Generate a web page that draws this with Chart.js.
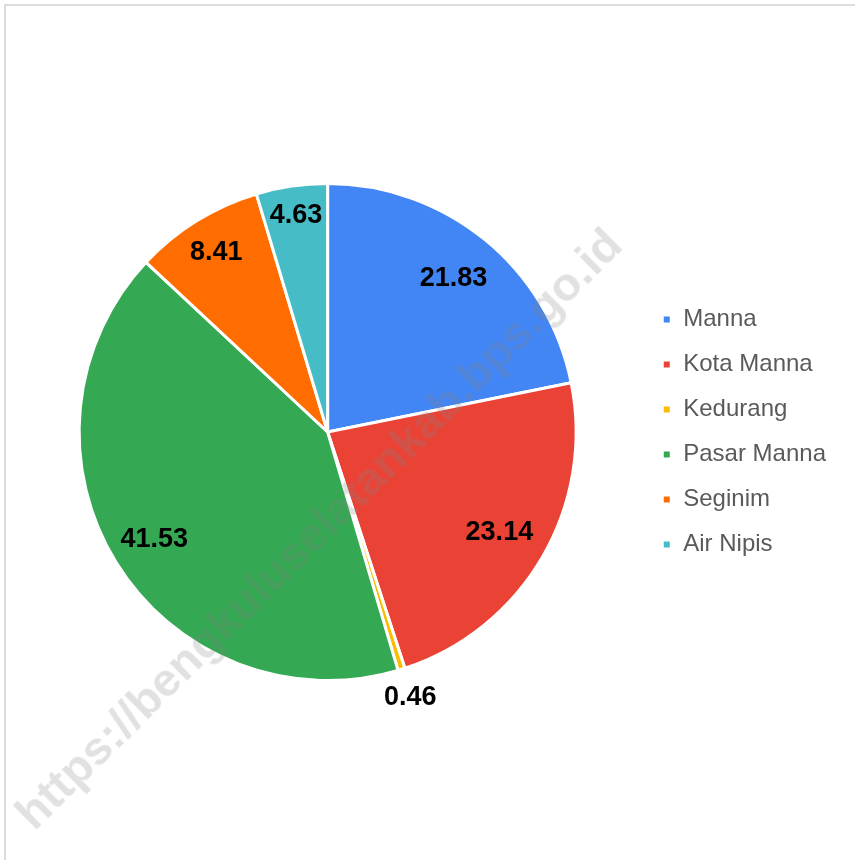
<!DOCTYPE html>
<html>
<head>
<meta charset="utf-8">
<script src="https://cdn.jsdelivr.net/npm/chart.js@4.4.1/dist/chart.umd.min.js"></script>
<style>
  html, body { margin: 0; padding: 0; background: #fff; }
  #wrap { position: relative; width: 855px; height: 860px; overflow: hidden; }
  #frame {
    position: absolute; left: 4px; top: 4px; width: 900px; height: 900px;
    border-top: 2px solid #dcdcdc; border-left: 2px solid #dcdcdc;
  }
  canvas { position: absolute; left: 0; top: 0; }
  #watermark {
    position: absolute; left: 318px; top: 528px;
    transform: translate(-50%, -50%) rotate(-44.7deg);
    font: bold 47px "Liberation Sans", Arial, sans-serif;
    color: rgba(128, 128, 128, 0.24);
    white-space: nowrap; pointer-events: none;
  }
</style>
</head>
<body>
<div id="wrap">
  <div id="frame"></div>
  <canvas id="chart" width="855" height="860"></canvas>
  <div id="watermark">https://bengkuluselatankab.bps.go.id</div>
</div>
<script>
const labels = ['Manna', 'Kota Manna', 'Kedurang', 'Pasar Manna', 'Seginim', 'Air Nipis'];
const values = [21.83, 23.14, 0.46, 41.53, 8.41, 4.63];
const colors = ['#4285F4', '#EA4335', '#FBBC04', '#34A853', '#FF6D01', '#46BDC6'];

// value labels: inside for big slices, pushed outward for thin ones
const sliceLabels = {
  id: 'sliceLabels',
  afterDatasetsDraw(chart) {
    const { ctx } = chart;
    const meta = chart.getDatasetMeta(0);
    const total = values.reduce((a, b) => a + b, 0);
    ctx.save();
    ctx.font = 'bold 27px "Liberation Sans", Arial, sans-serif';
    ctx.fillStyle = '#000';
    ctx.textAlign = 'center';
    ctx.textBaseline = 'middle';
    meta.data.forEach((arc, i) => {
      const pct = values[i] / total * 100;
      let f = 0.8;
      if (pct < 2) f = 1.12;
      else if (pct < 6) f = 0.88;
      else if (pct < 10) f = 0.85;
      else if (pct > 30) f = 0.82;
      const mid = (arc.startAngle + arc.endAngle) / 2;
      const r = arc.outerRadius * f;
      ctx.fillText(values[i].toFixed(2), arc.x + Math.cos(mid) * r, arc.y + Math.sin(mid) * r);
    });
    ctx.restore();
  }
};

new Chart(document.getElementById('chart'), {
  type: 'pie',
  data: {
    labels: labels,
    datasets: [{
      data: values,
      backgroundColor: colors,
      borderColor: '#ffffff',
      borderWidth: 3,
      hoverOffset: 0
    }]
  },
  options: {
    responsive: false,
    animation: false,
    layout: { padding: { left: 14, right: 19, top: 182, bottom: 178 } },
    plugins: {
      tooltip: { enabled: false },
      legend: {
        position: 'right',
        labels: {
          boxWidth: 9,
          boxHeight: 9,
          padding: 21,
          color: '#5a5a5a',
          font: { family: '"Liberation Sans", Arial, sans-serif', size: 24 }
        }
      }
    }
  },
  plugins: [sliceLabels]
});
</script>
</body>
</html>
